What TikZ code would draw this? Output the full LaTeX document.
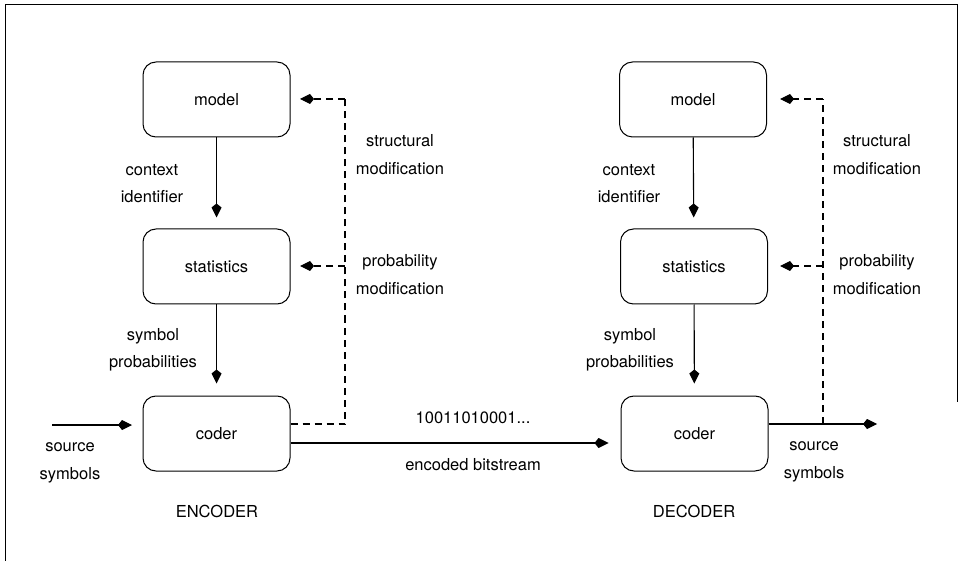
\documentclass[tikz,border=0pt]{standalone}
\usepackage{fontspec}
\setmainfont{TeX Gyre Heros}
\usetikzlibrary{arrows.meta,calc}
\begin{document}
\begin{tikzpicture}[x=1pt,y=-1pt,
  font=\fontsize{16.5}{19}\selectfont,
  box/.style={draw,line width=1pt,rounded corners=13pt,minimum width=147pt,minimum height=75pt,inner sep=0pt},
  tip/.style={-{Kite[length=14pt,width=10pt,inset=4pt]}},
  flow/.style={line width=1.1pt,tip},
  fb/.style={line width=1.1pt,dash pattern=on 7pt off 5pt},
  fba/.style={fb,tip},
  lbl/.style={inner sep=0pt,align=center}]
\useasboundingbox (0,0) rectangle (961,561);
\draw[line width=1pt] (5,561) -- (5,5) -- (957,5) -- (957,402);
% encoder
\node[box] (emodel) at (216.5,99.5) {model};
\node[box] (estat) at (216.5,266.5) {statistics};
\node[box] (ecoder) at (216.5,433.5) {coder};
\draw[flow,shorten >=11pt] (emodel) -- (estat);
\draw[flow,shorten >=12pt] (estat) -- (ecoder);
\node[lbl] (ectx) at (152,170) {context};
\node[lbl] (eid) at (152,197) {identifier};
\node[lbl] (esym) at (153,336) {symbol};
\node[lbl] (eprob) at (153,363) {probabilities};
\coordinate (efbb) at (345,424);
\coordinate (efbt) at (345,99);
\coordinate (efbm) at (345,266);
\draw[fb] ($(ecoder.east)+(0,-9.5)$) -- (efbb) -- (efbt);
\draw[fba] (efbt) -- (300,99);
\draw[fba] (efbm) -- (300,266);
\node[lbl] (estr) at (400,141) {structural};
\node[lbl] (emod1) at (400,169) {modification};
\node[lbl] (eprb) at (400,262) {probability};
\node[lbl] (emod2) at (400,289) {modification};
\coordinate (ein) at (52,425);
\draw[flow] (ein) -- (132,425);
\node[lbl] (esrc) at (70,447) {source};
\node[lbl] (esyms) at (70,475) {symbols};
\node[lbl] (enc) at (217,511) {ENCODER};
% decoder
\node[box] (dmodel) at (693,99.5) {model};
\node[box] (dstat) at (694,266.5) {statistics};
\node[box] (dcoder) at (694.5,433.5) {coder};
\draw[flow,shorten >=11pt] (dmodel) -- (dstat);
\draw[flow,shorten >=12pt] (dstat) -- (dcoder);
\node[lbl] (dctx) at (629,170) {context};
\node[lbl] (did) at (629,197) {identifier};
\node[lbl] (dsym) at (630,336) {symbol};
\node[lbl] (dprob) at (630,363) {probabilities};
\coordinate (dout) at (877,424);
\coordinate (dfbb) at (823,424);
\coordinate (dfbt) at (823,99);
\coordinate (dfbm) at (823,266);
\draw[flow] ($(dcoder.east)+(0,-9.5)$) -- (dout);
\draw[fb] (dfbb) -- (dfbt);
\draw[fba] (dfbt) -- (780,99);
\draw[fba] (dfbm) -- (780,266);
\node[lbl] (dstr) at (877,141) {structural};
\node[lbl] (dmod1) at (877,169) {modification};
\node[lbl] (dprb) at (877,262) {probability};
\node[lbl] (dmod2) at (877,289) {modification};
\node[lbl] (dsrc) at (814,446) {source};
\node[lbl] (dsyms) at (814,474) {symbols};
\node[lbl] (dec) at (694,511) {DECODER};
% bitstream
\draw[flow,shorten >=12pt] ($(ecoder.east)+(0,9.5)$) -- ($(dcoder.west)+(0,9.5)$);
\node[lbl] (bits) at (473,418) {10011010001...};
\node[lbl] (ebs) at (473,465) {encoded bitstream};
\end{tikzpicture}
\end{document}
